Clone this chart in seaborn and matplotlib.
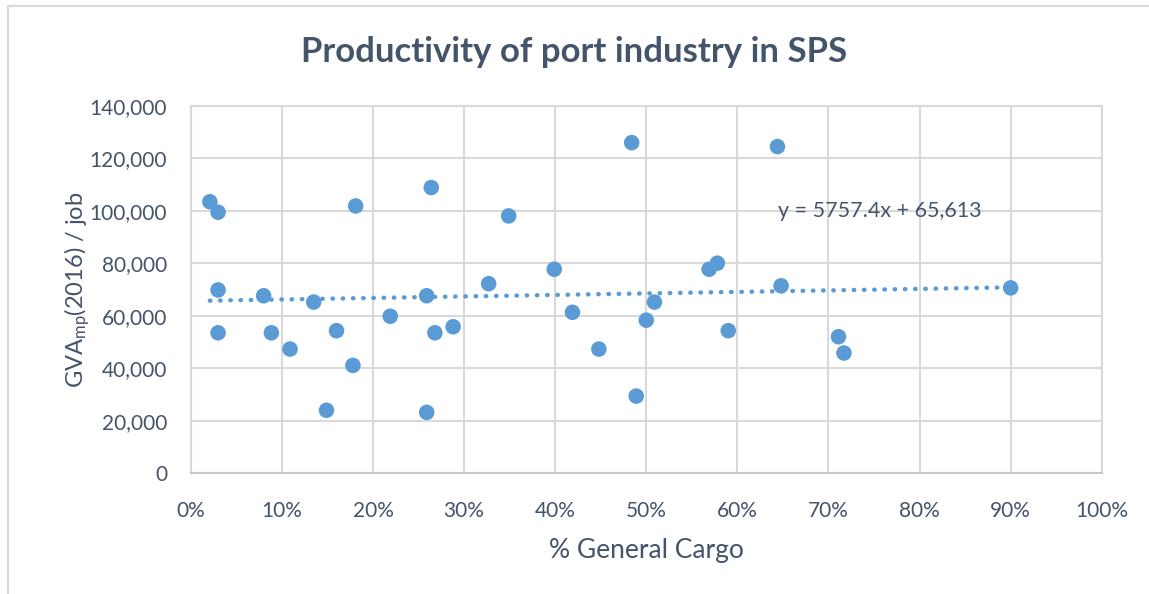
import matplotlib
matplotlib.use("Agg")
import matplotlib.pyplot as plt
import seaborn as sns
import pandas as pd
import numpy as np
from matplotlib.ticker import FuncFormatter
from matplotlib.lines import Line2D

general_cargo_pct = [2.1, 3.0, 3.0, 3.0, 8.0, 8.85, 10.9, 13.5, 14.9, 16.0,
                     17.8, 18.1, 21.9, 25.9, 25.9, 26.4, 26.8, 28.8, 32.7, 34.9,
                     39.9, 41.9, 44.8, 48.4, 48.9, 50.0, 50.9, 56.9, 57.8, 59.0,
                     64.4, 64.8, 71.1, 71.7, 90.0]
gva_per_job = [103400, 99400, 69800, 53500, 67600, 53500, 47300, 65200, 24000, 54300,
               41100, 101800, 59800, 67600, 23200, 108800, 53500, 55800, 72200, 98000,
               77700, 61300, 47300, 125900, 29400, 58300, 65200, 77700, 80000, 54300,
               124400, 71400, 52000, 45800, 70600]
trend_slope = 5757.4
trend_intercept = 65613
x_ticks = list(range(0, 101, 10))
y_ticks = list(range(0, 140001, 20000))

df = pd.DataFrame({"cargo": np.array(general_cargo_pct) / 100.0, "gva": gva_per_job})

sns.set_theme(style="white")
plt.rcParams['font.family'] = ['Lato', 'DejaVu Sans']
plt.rcParams['mathtext.fontset'] = 'custom'
plt.rcParams['mathtext.rm'] = 'Lato'
plt.rcParams['mathtext.it'] = 'Lato'

TEXT = '#44546A'
BLUE = '#5B9BD5'
GRID = '#D9D9D9'

fig = plt.figure(figsize=(11.49, 5.94), dpi=100)
ax = fig.add_axes([0.166, 0.2032, 0.7929, 0.619])

# trendline
tx = np.array([df["cargo"].min(), df["cargo"].max()])
ax.plot(tx, trend_slope * tx + trend_intercept, linestyle=(0, (0.1, 2.2)),
        dash_capstyle='round', color=BLUE, linewidth=3.2, zorder=2)

sns.scatterplot(data=df, x="cargo", y="gva", ax=ax, color=BLUE, s=125,
                edgecolor='none', zorder=3, legend=False)

ax.set_xlim(0, 1)
ax.set_ylim(0, 140000)
ax.set_xticks([t / 100 for t in x_ticks])
ax.set_yticks(y_ticks)
ax.xaxis.set_major_formatter(FuncFormatter(lambda v, p: f"{v*100:.0f}%"))
ax.yaxis.set_major_formatter(FuncFormatter(lambda v, p: f"{v:,.0f}"))
ax.grid(True, color=GRID, linewidth=1.5)
ax.set_axisbelow(True)
for s in ax.spines.values():
    s.set_color(GRID)
    s.set_linewidth(1.5)
ax.spines['bottom'].set_color('#C8C8C8')
ax.tick_params(axis='both', length=0, labelsize=15, colors=TEXT)
ax.tick_params(axis='x', pad=20)
ax.tick_params(axis='y', pad=17)

ax.set_xlabel("% General Cargo", fontsize=19, color=TEXT, labelpad=12)
ax.set_ylabel(r"GVA$_{\mathrm{mp}}$(2016) / job", fontsize=17, color=TEXT, labelpad=-2)
fig.text(0.5, 1 - 52/594, "Productivity of port industry in SPS", fontsize=25,
         fontweight='bold', color=TEXT, ha='center', va='center')

ax.text(0.645, 100000, "y = 5757.4x + 65,613", fontsize=15.5, color=TEXT,
        va='center', ha='left')

# chart area border (left and top)
fig.add_artist(Line2D([8/1149, 8/1149], [0, 1 - 6/594], transform=fig.transFigure,
                      color='#D9D9D9', linewidth=1.5))
fig.add_artist(Line2D([8/1149, 1], [1 - 6/594, 1 - 6/594], transform=fig.transFigure,
                      color='#D9D9D9', linewidth=1.5))

fig.savefig("out.png", dpi=100)
